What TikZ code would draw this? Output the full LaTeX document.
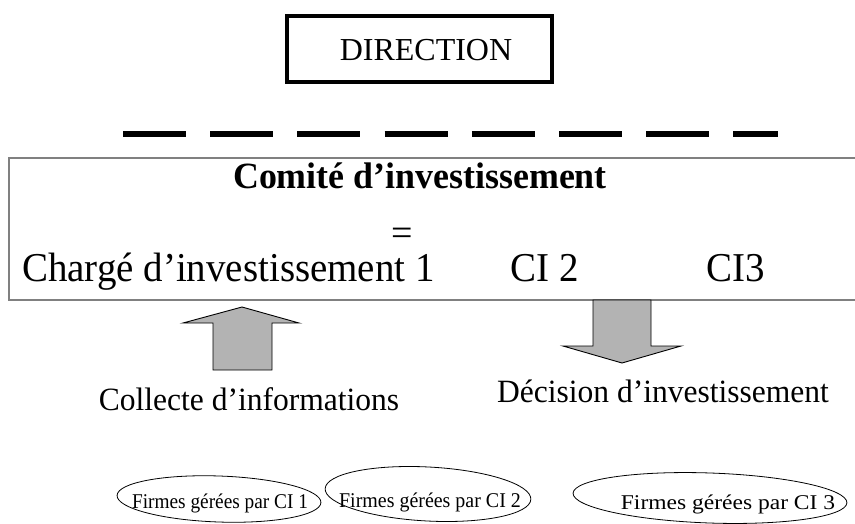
\documentclass[tikz,border=0pt]{standalone}
\usepackage{fontspec}
\setmainfont{Liberation Serif}
\definecolor{boxgray}{HTML}{808080}
\definecolor{arrowgray}{HTML}{B3B3B3}
\begin{document}
\begin{tikzpicture}[x=1pt,y=-1pt,
  lbl/.style={inner sep=0pt, anchor=base},
  big/.style={font=\fontsize{41}{46}\selectfont},
  mid/.style={font=\fontsize{32.5}{38}\selectfont},
  small/.style={font=\fontsize{21}{24}\selectfont},
  blockarrow/.style={fill=arrowgray, draw=black, line width=0.9pt, line join=miter},
  firm/.style={draw=black, line width=0.8pt}]
\useasboundingbox (0,0) rectangle (855,523);

% Direction box
\node[draw=black, line width=4pt, minimum width=265pt, minimum height=66pt,
      inner sep=0pt] (dir) at (419.5,48.5) {};
\node[lbl, font=\fontsize{32}{38}\selectfont] (dirtxt) at (426,60) {DIRECTION};

% dashed separator
\coordinate (dl) at (123,134);
\coordinate (dr) at (778,134);
\draw[line width=6.5pt, dash pattern=on 63pt off 24.2pt] (dl) -- (dr);

% main box (open on the right)
\coordinate (b1) at (856,158);
\coordinate (b2) at (9,158);
\coordinate (b3) at (9,300);
\coordinate (b4) at (856,300);
\draw[boxgray, line width=2pt] (b1) -- (b2) -- (b3) -- (b4);

\node[lbl, font=\bfseries\fontsize{37}{42}\selectfont] (comite) at (420,188) {\scalebox{0.97}[1]{Comité d’investissement}};
\node[lbl, font=\fontsize{38}{42}\selectfont] (eq) at (402,245) {\smash{=}};
\node[lbl, big, anchor=base west] (ci1) at (22,281) {\scalebox{0.95}[1]{Chargé d’investissement 1}};
\node[lbl, big] (ci2) at (545,281) {\scalebox{0.95}[1]{CI 2}};
\node[lbl, big] (ci3) at (736,281) {\scalebox{0.95}[1]{CI3}};

% block arrows
\draw[blockarrow] (242,307) -- (299,323) -- (272,323) -- (272,370) -- (213,370) -- (213,323) -- (183,323) -- cycle;
\draw[blockarrow] (593,300) -- (651,300) -- (651,346) -- (681,346) -- (622,363) -- (563,346) -- (593,346) -- cycle;

\node[lbl, mid] (collecte) at (249,410) {\scalebox{0.97}[1]{Collecte d’informations}};
\node[lbl, mid] (decision) at (663,402) {\scalebox{0.97}[1]{Décision d’investissement}};

% firms
\node[lbl, small] (f1) at (220,508) {\scalebox{0.92}[1]{Firmes gérées par CI 1}};
\node[lbl, small] (f2) at (430,507) {\scalebox{0.95}[1]{Firmes gérées par CI 2}};
\node[lbl, small] (f3) at (728,509) {\scalebox{1.12}[1]{Firmes gérées par CI 3}};
\coordinate (e1) at (219,499);
\coordinate (e2) at (428,494);
\coordinate (e3) at (710,498);
\draw[firm, rotate around={-2:(e1)}] (e1) ellipse [x radius=102, y radius=23];
\draw[firm, rotate around={-3:(e2)}] (e2) ellipse [x radius=103, y radius=27];
\draw[firm, rotate around={-2:(e3)}] (e3) ellipse [x radius=137, y radius=25];
\end{tikzpicture}
\end{document}
